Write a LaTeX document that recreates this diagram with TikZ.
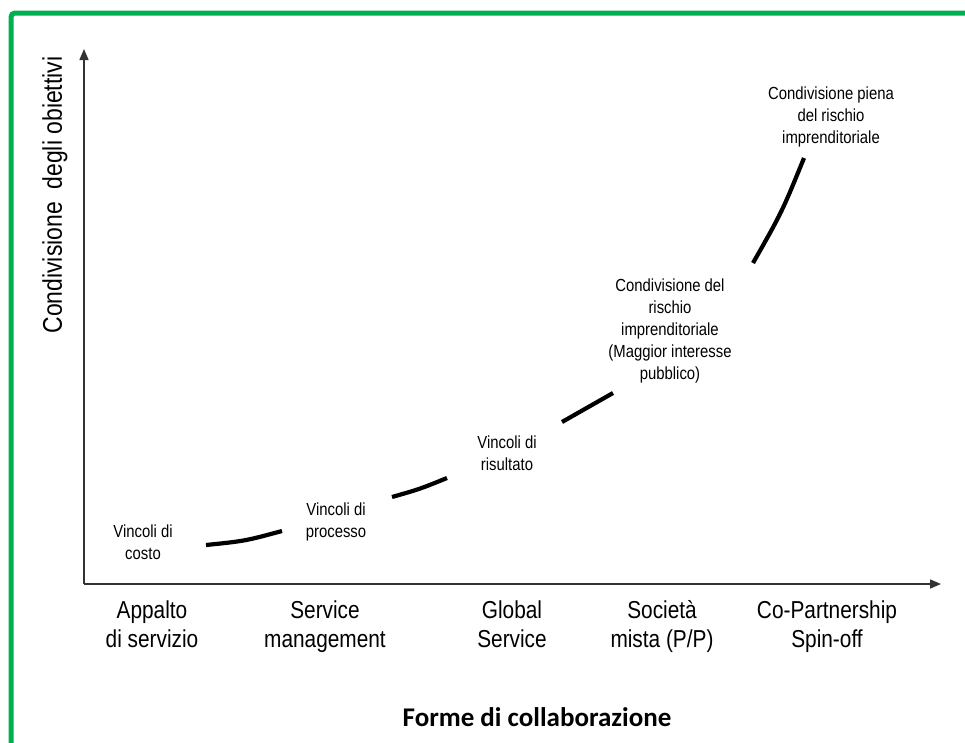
\documentclass[tikz,border=0pt]{standalone}
\usepackage{fontspec}
\setmainfont[FakeStretch=0.85]{Liberation Sans}
\newfontfamily\titlefont{Carlito}
\usetikzlibrary{arrows.meta}
\definecolor{framegreen}{RGB}{0,176,80}

\begin{document}
\begin{tikzpicture}[x=1pt, y=-1pt,
    axis/.style={draw=black!80, line width=1.5pt, -{Triangle[length=11pt,width=9pt]}},
    stage/.style={align=center, anchor=base, font=\fontsize{24.5}{29}\selectfont},
    goal/.style={align=center, font=\fontsize{17.5}{22}\selectfont},
    trend/.style={line width=4.2pt}]
    \useasboundingbox (0,0) rectangle (965,742);
    % frame, open to the right and bottom
    \draw[framegreen, line width=5pt, rounded corners=4pt] (11,770) -- (11,13) -- (990,13);

    \coordinate (origin) at (84,584);
    \coordinate (ytop) at (84,49);
    \coordinate (xend) at (941,584);
    \draw[axis] (origin) -- (ytop);
    \draw[axis] (origin) -- (xend);

    \node[rotate=90, font=\fontsize{27}{30}\selectfont] (ylabel) at (55,195) {Condivisione~ degli obiettivi};
    \node[font=\titlefont\bfseries\fontsize{27}{30}\selectfont] (xlabel) at (537,717) {Forme di collaborazione};

    % base anchor sits on the second line
    \node[stage] (appalto) at (152,647) {Appalto\\di servizio};
    \node[stage] (service) at (325,647) {Service\\management};
    \node[stage] (global) at (512,647) {Global\\Service};
    \node[stage] (mista) at (662,647) {Società\\mista (P/P)};
    \node[stage] (copart) at (827,647) {Co-Partnership\\Spin-off};

    \node[goal] (costo) at (143,542.5) {Vincoli di\\costo};
    \node[goal] (processo) at (336,521.5) {Vincoli di\\processo};
    \node[goal] (risultato) at (507,453) {Vincoli di\\risultato};
    \node[goal] (rischio) at (670,330.5) {Condivisione del\\rischio\\imprenditoriale\\(Maggior interesse\\pubblico)};
    \node[goal] (piena) at (831,117) {Condivisione piena\\del rischio\\imprenditoriale};

    % growth curve, broken between the labels
    \draw[trend] (206,545) .. controls (245,541) .. (282,531);
    \draw[trend] (392,497) .. controls (420,489) .. (447,478);
    \draw[trend] (562,422) .. controls (588,408) .. (613,393);
    \draw[trend] (753,263) .. controls (782,212) .. (804,158);
\end{tikzpicture}
\end{document}
